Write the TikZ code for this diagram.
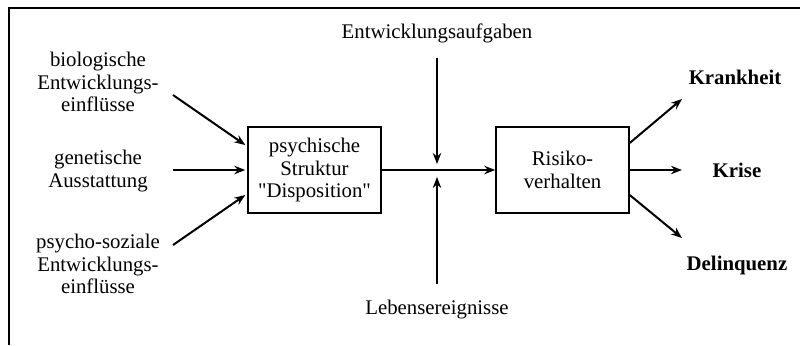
\documentclass[tikz,border=0pt]{standalone}
\usepackage{fontspec}
\setmainfont{Liberation Serif}
\usetikzlibrary{arrows}
\usetikzlibrary{positioning}
\usetikzlibrary{calc}
\usetikzlibrary{arrows.meta}

\begin{document}
\begin{tikzpicture}[->,>={Stealth[length=5.5pt,width=4.2pt]},x=0.5pt,y=-0.5pt,line width=1pt,
			font=\fontsize{10.4}{11.2}\selectfont]
			\tikzstyle{every node}=[align=center,inner sep=1pt]
			\tikzstyle{block}=[draw,line width=0.7pt,minimum width=66.5pt,minimum height=43pt]
			\tikzstyle{result}=[font=\fontsize{10.4}{11.2}\selectfont\bfseries]
			
			\useasboundingbox (0,0) rectangle (800,345);
			\draw[-,line width=0.9pt] (9,345) -- (9,8) -- (800,8);
			
			\node         (bio) at (98,82)  {biologische\\Entwicklungs-\\einflüsse};
			\node         (gen) at (98,171) {genetische\\Ausstattung};
			\node         (soz) at (98,264) {psycho-soziale\\Entwicklungs-\\einflüsse};
			
			\node[block]  (psy) at (314.5,170) {psychische\\Struktur\\\textquotedbl Disposition\textquotedbl};
			\node[block]  (ris) at (562.5,170) {Risiko-\\verhalten};
			
			\node         (auf) at (437,33)  {Entwicklungsaufgaben};
			\node         (leb) at (437,310) {Lebensereignisse};
			
			\node[result] (kra) at (735,77)  {Krankheit};
			\node[result] (kri) at (737,170) {Krise};
			\node[result] (del) at (737,265) {Delinquenz};
			
			\coordinate (bio-out) at (173,95);
			\coordinate (gen-out) at (173,170);
			\coordinate (soz-out) at (173,245);
			\coordinate (auf-in)  at (437,164);
			\coordinate (leb-in)  at (437,177);
			\coordinate (kra-in)  at (682,99);
			\coordinate (kri-in)  at (682,170);
			\coordinate (del-in)  at (682,238);
			
			\path (bio-out) edge ($(psy.west)+(-2,-25)$)
			(gen-out) edge ($(psy.west)+(-2,0)$)
			(soz-out) edge ($(psy.west)+(-2,25)$)
			(psy) edge (ris)
			(auf) edge [shorten <=6pt] (auf-in)
			(leb) edge [shorten <=7pt] (leb-in)
			($(ris.east)+(0,-27)$) edge (kra-in)
			(ris) edge (kri-in)
			($(ris.east)+(0,25)$) edge (del-in)
			;
\end{tikzpicture}
\end{document}
